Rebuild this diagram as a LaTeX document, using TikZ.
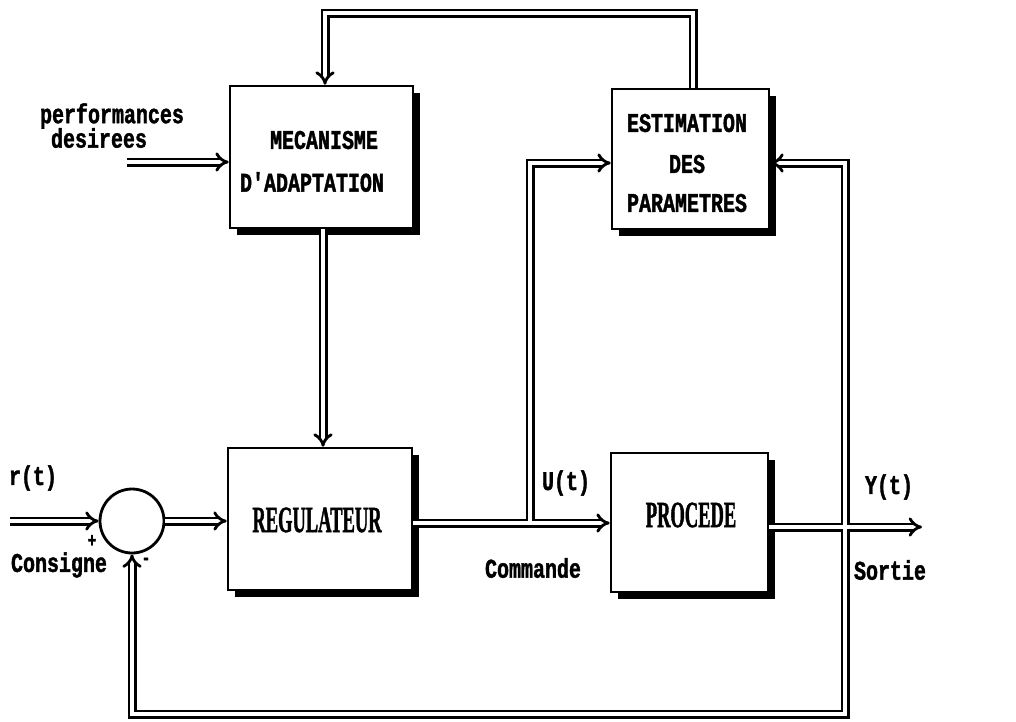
\documentclass[tikz,border=0pt]{standalone}
\usepackage{fontspec}
\newfontfamily\monob{Liberation Mono}[FakeStretch=0.74,FakeBold=1.5]
\newfontfamily\serb{Liberation Serif}[FakeStretch=0.5,FakeBold=1]
\usetikzlibrary{arrows.meta,shadows}
\tikzset{
  dline/.style={double, double distance=3.4pt, line width=2.8pt},
  dbl/.style={dline, -{Implies[scale=1.7]}},
  blk/.style={draw, line width=2.6pt, fill=white, inner sep=0pt,
    drop shadow={shadow xshift=7pt, shadow yshift=-7pt, fill=black, opacity=1}},
  lbl/.style={font=\monob\bfseries\fontsize{27}{29}\selectfont, inner sep=0pt},
  sml/.style={font=\monob\bfseries\fontsize{20}{22}\selectfont, inner sep=0pt},
  big/.style={font=\serb\bfseries\fontsize{37}{39}\selectfont, inner sep=0pt},
  sumc/.style={draw, circle, line width=2.8pt, minimum size=64pt, inner sep=0pt}
}
\begin{document}
\begin{tikzpicture}[x=1pt, y=-1pt]
\useasboundingbox[fill=white] (0,0) rectangle (1016,721);
% blocks
\node[blk, minimum width=183pt, minimum height=142pt] (mec) at (321.5,157) {};
\node[blk, minimum width=157pt, minimum height=140pt] (est) at (690.5,159) {};
\node[blk, minimum width=184pt, minimum height=142pt] (reg) at (320,519) {};
\node[blk, minimum width=157pt, minimum height=139pt] (proc) at (689.5,522.5) {};
\node[sumc] (circ) at (132,521) {};
% block texts
\node[lbl] (t1) at (324,140) {MECANISME};
\node[lbl] (t2) at (312,182) {D'ADAPTATION};
\node[lbl] (t3) at (687,123) {ESTIMATION};
\node[lbl] (t4) at (687,164) {DES};
\node[lbl] (t5) at (687,203) {PARAMETRES};
\node[big] (t6) at (317,520) {REGULATEUR};
\node[big] (t7) at (691,515) {PROCEDE};
% labels
\node[lbl] (l1) at (112,116) {performances};
\node[lbl] (l2) at (99,138) {desirees};
\node[lbl] (l3) at (33,478) {r(t)};
\node[sml] (l4) at (92,541) {+};
\node[lbl] (l5) at (59,565) {Consigne};
\node[sml] (l6) at (146,561) {-};
\node[lbl] (l7) at (566,483) {U(t)};
\node[lbl] (l8) at (533,568) {Commande};
\node[lbl] (l9) at (889,487) {Y(t)};
\node[lbl] (l10) at (890,570) {Sortie};
% coordinates
\coordinate (pin) at (127,162);
\coordinate (ta) at (693,13);
\coordinate (tb) at (325,13);
\coordinate (mr) at (323,350);
\coordinate (rin) at (10,521);
\coordinate (u) at (530,523);
\coordinate (ein) at (560,163);
\coordinate (y) at (845,527);
\coordinate (yout) at (922,527);
\coordinate (bot) at (500,714);
% connectors
\draw[dbl] (pin) -- (pin -| mec.west);
\draw[dbl] (ta |- est.north) -- (ta) -- (tb) -- (tb |- mec.north);
\draw[dbl] (mec.south -| mr) -- (reg.north -| mr);
\draw[dbl] (rin) -- (circ.west);
\draw[dbl] (circ.east) -- (circ.east -| reg.west);
\draw[dbl] (u -| reg.east) -- (u -| proc.west);
\draw[dbl] ([yshift=1.7pt]u) -- (u |- ein) -- (ein -| est.west);
\draw[dbl] (y -| proc.east) -- (yout);
\draw[dbl] ([yshift=1.7pt]y) -- (y |- ein) -- (ein -| est.east);
\draw[dbl] ([yshift=-1.7pt]y) -- (y |- bot) -| (circ.south);
\end{tikzpicture}
\end{document}
